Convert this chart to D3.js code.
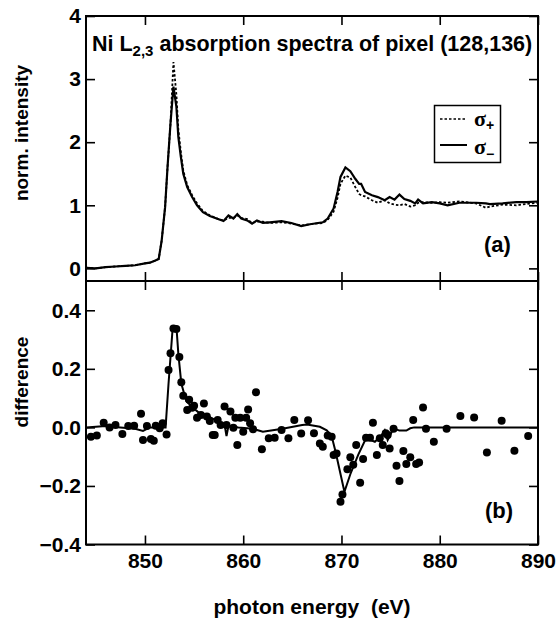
<!DOCTYPE html>
<html>
<head>
<meta charset="utf-8">
<script src="https://cdn.jsdelivr.net/npm/d3@7"></script>
<style>
  html, body { margin: 0; padding: 0; background: #fff; }
  svg text { font-family: "Liberation Sans", Arial, sans-serif; font-weight: bold; fill: #000; }
</style>
</head>
<body>
<div id="chart"></div>
<script>
// panel (a): absorption spectra, shared energy grid
const energyA = [844, 845, 846, 847, 848, 849, 850, 850.5, 851, 851.4, 851.7, 852.05, 852.3, 852.6, 852.9,
  853.2, 853.4, 853.65, 853.9, 854.3, 854.8, 855.3, 855.9, 856.6, 857.5, 858, 858.5, 859, 859.4, 859.8,
  860.4, 860.9, 861.4, 862, 862.7, 863.9, 864.9, 865.9, 866.8, 868.1, 868.6, 869.2, 869.6, 869.9, 870.4,
  870.9, 871.4, 871.8, 872, 872.4, 873.1, 873.7, 874.4, 874.9, 875.4, 875.9, 876.4, 877, 877.5, 877.8,
  878.3, 879.2, 880, 880.8, 882, 883.7, 884.7, 885.1, 886.4, 887.8, 888.8, 890];
const sigmaMinus = [0.01, 0.0, 0.02, 0.03, 0.04, 0.05, 0.08, 0.09, 0.12, 0.15, 0.44, 0.97, 1.61, 2.3, 2.88,
  2.56, 2.08, 1.77, 1.5, 1.29, 1.13, 1.0, 0.89, 0.83, 0.78, 0.75, 0.84, 0.79, 0.86, 0.79,
  0.76, 0.71, 0.76, 0.72, 0.73, 0.75, 0.72, 0.67, 0.7, 0.73, 0.79, 0.95, 1.21, 1.45, 1.6,
  1.54, 1.42, 1.34, 1.34, 1.21, 1.16, 1.13, 1.08, 1.13, 1.09, 1.17, 1.1, 1.07, 1.03, 1.09,
  1.03, 1.05, 1.03, 1.0, 1.04, 1.04, 1.03, 1.02, 1.03, 1.05, 1.05, 1.06];
const sigmaPlus = [0.01, 0.0, 0.02, 0.03, 0.04, 0.05, 0.08, 0.09, 0.12, 0.15, 0.44, 0.97, 1.61, 2.3, 3.27,
  2.75, 2.2, 1.85, 1.55, 1.32, 1.16, 1.03, 0.91, 0.84, 0.78, 0.76, 0.8, 0.8, 0.84, 0.8,
  0.78, 0.72, 0.74, 0.74, 0.72, 0.73, 0.71, 0.68, 0.7, 0.72, 0.77, 0.9, 1.12, 1.34, 1.47,
  1.44, 1.29, 1.18, 1.16, 1.14, 1.08, 1.04, 1.08, 1.03, 1.01, 1.0, 1.02, 0.98, 1.0, 1.04,
  1.05, 1.04, 1.05, 1.04, 1.06, 1.03, 0.96, 0.98, 1.01, 1.0, 1.02, 1.04];

// panel (b): difference, fitted line
const energyLine = [844, 846, 847.5, 849, 849.8, 850.5, 851.5, 852.1, 852.4, 852.8, 852.9, 853.2, 853.4,
  853.7, 854.2, 854.8, 855.5, 856.3, 857.5, 858.1, 858.3, 858.5, 859.5, 861, 862, 863, 864, 866, 866.5,
  867.8, 868.5, 869, 869.4, 870.3, 870.9, 871.7, 872.5, 873.4, 874.1, 874.4, 874.7, 875.3, 875.9, 876.6,
  877, 877.4, 890];
const diffLine = [0.0, 0.005, 0.0, -0.005, -0.012, 0.0, 0.0, 0.0, 0.15, 0.33, 0.345, 0.345, 0.25,
  0.15, 0.09, 0.07, 0.05, 0.04, 0.02, 0.01, -0.03, 0.005, 0.0, -0.005, -0.015, -0.01, -0.005, 0.008, 0.01,
  0.002, -0.01, -0.03, -0.083, -0.22, -0.16, -0.094, -0.037, -0.049, -0.026, -0.01, -0.043, -0.003, -0.011, -0.011,
  -0.003, 0.0, 0.0];

// panel (b): measured difference points
const energyPts = [844.5, 845.1, 845.8, 846.4, 847.0, 847.7, 848.3, 848.9, 849.6, 849.8, 850.2, 850.6, 850.9,
  851.1, 851.5, 851.8, 852.2, 852.4, 852.6, 852.9, 853.2, 853.5, 853.7, 853.9, 854.3, 854.5, 854.8, 855.0,
  855.3, 855.7, 856.0, 856.3, 856.6, 856.9, 857.1, 857.4, 857.7, 858.1, 858.3, 858.7, 859.0, 859.2, 859.4,
  859.7, 860.0, 860.3, 860.5, 860.7, 861.0, 861.3, 861.9, 862.6, 863.2, 863.9, 864.6, 865.2, 865.9, 866.6,
  867.2, 867.8, 868.1, 868.6, 869.0, 869.2, 869.5, 869.9, 870.1, 870.6, 870.9, 871.2, 871.5, 871.9, 872.2,
  872.5, 872.9, 873.2, 873.6, 873.9, 874.2, 874.5, 874.7, 874.9, 875.3, 875.6, 875.9, 876.3, 876.6, 877.0,
  877.3, 877.6, 877.9, 878.3, 878.6, 879.4, 880.7, 882.1, 883.5, 884.8, 886.3, 887.6, 889.0];
const diffPts = [-0.032, -0.028, 0.016, 0.0, 0.008, -0.023, 0.005, 0.006, 0.047, -0.043, 0.005, -0.04, -0.046,
  0.006, -0.003, 0.014, -0.024, 0.196, 0.253, 0.338, 0.336, 0.24, 0.154, 0.108, 0.059, 0.094, 0.067, 0.074,
  0.033, 0.042, 0.082, 0.037, 0.022, -0.026, -0.026, 0.025, 0.008, 0.071, 0.008, 0.054, -0.001, 0.033, -0.06,
  0.033, -0.015, 0.033, 0.061, 0.014, -0.006, 0.12, -0.075, -0.037, -0.035, -0.009, -0.037, 0.025, -0.021, 0.024,
  -0.02, -0.055, -0.066, -0.028, -0.032, -0.094, -0.089, -0.254, -0.229, -0.143, -0.102, -0.128, -0.06, -0.189, -0.108,
  -0.035, -0.035, 0.016, -0.094, -0.037, -0.06, -0.02, -0.026, -0.072, -0.005, -0.131, -0.183, -0.081, -0.125, -0.102,
  0.025, -0.125, -0.12, 0.068, -0.005, -0.049, -0.005, 0.039, 0.034, -0.086, 0.023, -0.08, -0.029];

// tick labels
const xTicks = [850, 860, 870, 880, 890];
const yTicksA = [0, 1, 2, 3, 4];
const yTicksB = [-0.4, -0.2, 0.0, 0.2, 0.4];

const W = 557, H = 624;
const left = 86, right = 538, topA = 16, mid = 281, bottomB = 544.5;
const tick = 9;

const svg = d3.select("#chart").append("svg")
  .attr("width", W).attr("height", H);

const x = d3.scaleLinear().domain([844, 890]).range([left, right]);
const yA = d3.scaleLinear().domain([-0.2, 4]).range([mid, topA]);
const yB = d3.scaleLinear().domain([-0.4, 0.5]).range([bottomB, mid]);

function styleAxis(g, hideLabels) {
  g.select(".domain").remove();
  g.selectAll(".tick line").attr("stroke", "#000").attr("stroke-width", 1.6);
  g.selectAll(".tick text").style("font-size", "21px").style("font-family", "Liberation Sans, Arial, sans-serif")
    .style("font-weight", "bold");
  if (hideLabels) g.selectAll(".tick text").remove();
}

// panel (a) axes
svg.append("g").attr("transform", `translate(${left},0)`)
  .call(d3.axisLeft(yA).tickValues(yTicksA).tickSize(-tick).tickPadding(5).tickFormat(d3.format("d")))
  .call(g => styleAxis(g, false));
svg.append("g").attr("transform", `translate(${right},0)`)
  .call(d3.axisRight(yA).tickValues(yTicksA).tickSize(-tick))
  .call(g => styleAxis(g, true));
svg.append("g").attr("transform", `translate(0,${topA})`)
  .call(d3.axisTop(x).tickValues(xTicks).tickSize(-tick))
  .call(g => styleAxis(g, true));
svg.append("g").attr("transform", `translate(0,${mid})`)
  .call(d3.axisBottom(x).tickValues(xTicks).tickSize(-tick))
  .call(g => styleAxis(g, true));

// panel (b) axes
svg.append("g").attr("transform", `translate(${left},0)`)
  .call(d3.axisLeft(yB).tickValues(yTicksB).tickSize(-tick).tickPadding(5).tickFormat(d3.format(".1f")))
  .call(g => styleAxis(g, false));
svg.append("g").attr("transform", `translate(${right},0)`)
  .call(d3.axisRight(yB).tickValues(yTicksB).tickSize(-tick))
  .call(g => styleAxis(g, true));
svg.append("g").attr("transform", `translate(0,${mid})`)
  .call(d3.axisTop(x).tickValues(xTicks).tickSize(-tick))
  .call(g => styleAxis(g, true));
svg.append("g").attr("transform", `translate(0,${bottomB})`)
  .call(d3.axisBottom(x).tickValues(xTicks).tickSize(-tick).tickPadding(9))
  .call(g => styleAxis(g, false));

// frames
svg.append("rect").attr("x", left).attr("y", topA).attr("width", right - left).attr("height", bottomB - topA)
  .attr("fill", "none").attr("stroke", "#000").attr("stroke-width", 2);
svg.append("line").attr("x1", left).attr("x2", right).attr("y1", mid).attr("y2", mid)
  .attr("stroke", "#000").attr("stroke-width", 2);

// spectra
const lineA = (vals) => d3.line().x((d, i) => x(energyA[i])).y(d => yA(d))(vals);
svg.append("path").attr("d", lineA(sigmaPlus))
  .attr("fill", "none").attr("stroke", "#000").attr("stroke-width", 1.8).attr("stroke-dasharray", "2.5,2");
svg.append("path").attr("d", lineA(sigmaMinus))
  .attr("fill", "none").attr("stroke", "#000").attr("stroke-width", 2.2);

// difference
svg.append("path")
  .attr("d", d3.line().x((d, i) => x(energyLine[i])).y(d => yB(d))(diffLine))
  .attr("fill", "none").attr("stroke", "#000").attr("stroke-width", 2);
svg.append("g").selectAll("circle").data(diffPts).join("circle")
  .attr("cx", (d, i) => x(energyPts[i])).attr("cy", d => yB(d)).attr("r", 4).attr("fill", "#000");

// title
const title = svg.append("text").attr("x", 92).attr("y", 51).style("font-size", "21.5px");
title.append("tspan").text("Ni L");
title.append("tspan").text("2,3").style("font-size", "15px").attr("dy", 5);
title.append("tspan").text(" absorption spectra of pixel (128,136)").attr("dy", -5);

// legend
svg.append("rect").attr("x", 434.5).attr("y", 105.5).attr("width", 66).attr("height", 57)
  .attr("fill", "#fff").attr("stroke", "#000").attr("stroke-width", 1.5);
svg.append("line").attr("x1", 440).attr("x2", 466).attr("y1", 119).attr("y2", 119)
  .attr("stroke", "#000").attr("stroke-width", 1.5).attr("stroke-dasharray", "2.5,2");
svg.append("line").attr("x1", 440).attr("x2", 467).attr("y1", 145).attr("y2", 145)
  .attr("stroke", "#000").attr("stroke-width", 2);
const lg1 = svg.append("text").attr("x", 474).attr("y", 126);
lg1.append("tspan").text("σ").style("font-family", "Liberation Serif, serif").style("font-size", "22px");
lg1.append("tspan").text("+").style("font-size", "14px").attr("dy", 4);
const lg2 = svg.append("text").attr("x", 474).attr("y", 154);
lg2.append("tspan").text("σ").style("font-family", "Liberation Serif, serif").style("font-size", "22px");
lg2.append("tspan").text("−").style("font-size", "14px").attr("dy", 5);

// panel labels
svg.append("text").attr("x", 484).attr("y", 252).style("font-size", "22px").text("(a)");
svg.append("text").attr("x", 485).attr("y", 518).style("font-size", "22px").text("(b)");

// axis titles
svg.append("text").attr("transform", "translate(28,133) rotate(-90)").attr("text-anchor", "middle")
  .style("font-size", "19px").text("norm. intensity");
svg.append("text").attr("transform", "translate(28,382) rotate(-90)").attr("text-anchor", "middle")
  .style("font-size", "19px").text("difference");
svg.append("text").attr("x", 312).attr("y", 614).attr("text-anchor", "middle")
  .style("font-size", "21px").style("white-space", "pre").text("photon energy  (eV)");
</script>
</body>
</html>
